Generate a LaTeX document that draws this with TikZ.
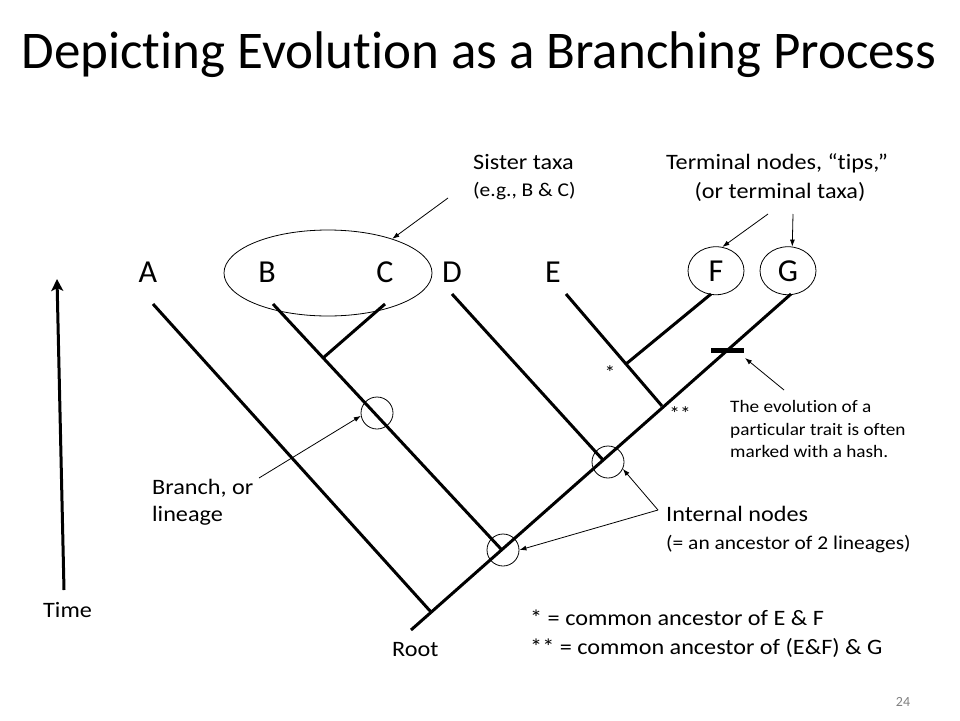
\documentclass[tikz,border=0pt]{standalone}
\usepackage{fontspec}
\setmainfont{Carlito}[Ligatures=NoCommon]
\newfontfamily\labelfont{Carlito}[FakeStretch=1.1,Ligatures=NoCommon]
\usetikzlibrary{arrows.meta,shapes.geometric}

\begin{document}
\begin{tikzpicture}[x=1pt,y=-1pt,
        branch/.style={line width=3pt},
        pointer/.style={-{Latex[length=7pt,width=5pt]},line width=0.8pt},
        ring/.style={circle,draw,line width=0.8pt,minimum size=32pt,inner sep=0pt},
        taxon/.style={font=\fontsize{32}{38}\selectfont,inner sep=0pt,anchor=base},
        tip/.style={ellipse,draw,line width=0.8pt,minimum width=56pt,minimum height=48pt},
        lbl/.style={font=\labelfont\fontsize{22}{26}\selectfont,inner sep=0pt},
        small/.style={font=\labelfont\fontsize{19.5}{23}\selectfont,inner sep=0pt},
        note/.style={font=\labelfont\fontsize{17.5}{21}\selectfont,inner sep=0pt}]
        \useasboundingbox (0,0) rectangle (960,720);

        % title
        \node [font=\fontsize{53}{62}\selectfont,anchor=base,inner sep=0pt] (title) at (479,68) {Depicting Evolution as a Branching Process};

        % taxa
        \node [taxon] (A) at (148,282) {A};
        \node [taxon] (B) at (267,282) {B};
        \node [taxon] (C) at (385,282) {C};
        \node [taxon] (D) at (452,282) {D};
        \node [taxon] (E) at (553,282) {E};
        \node [taxon,tip] (F) at (716,281) {F};
        \node [taxon,tip] (G) at (788,281) {G};
        \node [ellipse,draw,line width=0.8pt,minimum width=208pt,minimum height=86pt] (sis) at (328,273) {};

        % tree
        \coordinate (root) at (411,630);
        \coordinate (tA) at (153,304);
        \coordinate (tB) at (273,304);
        \coordinate (tC) at (385,304);
        \coordinate (tD) at (452,294);
        \coordinate (tE) at (566,294);
        \coordinate (tF) at (711,294);
        \coordinate (tG) at (791,294);
        \coordinate (jA) at (431,612);
        \coordinate (jB) at (501,549);
        \coordinate (jC) at (323,358);
        \coordinate (jD) at (603,460);
        \coordinate (jE) at (662,406);
        \coordinate (jF) at (626,364);

        \draw[branch] (root) -- (tG);
        \draw[branch] (tA) -- (jA);
        \draw[branch] (tB) -- (jB);
        \draw[branch] (tC) -- (jC);
        \draw[branch] (tD) -- (jD);
        \draw[branch] (tE) -- (jE);
        \draw[branch] (tF) -- (jF);
        \draw[line width=5pt] (711,350) -- (744,350);

        \node [ring] (ringB) at (377,413) {};
        \node [ring] (ringD) at (608,462) {};
        \node [ring] (ringR) at (503,550) {};

        \node [small] (star) at (610,373) {*};
        \node [small] (stars) at (680,414) {**};

        % labels
        \node [lbl,anchor=base west] (sis1) at (473,169) {Sister taxa};
        \node [small,anchor=base west] (sis2) at (473,196) {(e.g., B \& C)};
        \node [lbl,anchor=base] (term1) at (777,169) {Terminal nodes, “tips,”};
        \node [lbl,anchor=base] (term2) at (780,198) {(or terminal taxa)};
        \node [note,anchor=base west] (hash1) at (730,412) {The evolution of a};
        \node [note,anchor=base west] (hash2) at (730,435) {particular trait is often};
        \node [note,anchor=base west] (hash3) at (730,457) {marked with a hash.};
        \node [lbl,anchor=base west] (br1) at (152,494) {Branch, or};
        \node [lbl,anchor=base west] (br2) at (152,521) {lineage};
        \node [lbl,anchor=base west] (int1) at (666,521) {Internal nodes};
        \node [small,anchor=base west] (int2) at (666,549) {(= an ancestor of 2 lineages)};
        \node [lbl,anchor=base west] (time) at (43,617) {Time};
        \node [lbl,anchor=base west] (rootlbl) at (392,656) {Root};
        \node [lbl,anchor=base west] (key1) at (530,625) {* = common ancestor of E \& F};
        \node [lbl,anchor=base west] (key2) at (530,654) {** = common ancestor of (E\&F) \& G};
        \node [font=\fontsize{14}{17}\selectfont,text=gray,anchor=base] (page) at (903,706) {24};

        % pointers
        \coordinate (p0) at (448,198);
        \coordinate (p1) at (768,214);
        \coordinate (p2) at (793,214);
        \coordinate (p3) at (784,390);
        \coordinate (p4) at (259,478);
        \coordinate (p5) at (658,510);
        \coordinate (t0) at (64,590);
        \coordinate (t1) at (57,279);

        \draw[pointer] (p0) to (sis.28);
        \draw[pointer] (p1) to (F.75);
        \draw[pointer] (p2) to (G.80);
        \draw[pointer] (p3) to (745,358);
        \draw[pointer] (p4) to (ringB.190);
        \draw[pointer] (p5) to (ringD.-25);
        \draw[pointer] (p5) to (ringR.east);
        \draw[-{Stealth[length=12pt,width=12pt,inset=3pt]},line width=3pt] (t0) to (t1);
\end{tikzpicture}
\end{document}
